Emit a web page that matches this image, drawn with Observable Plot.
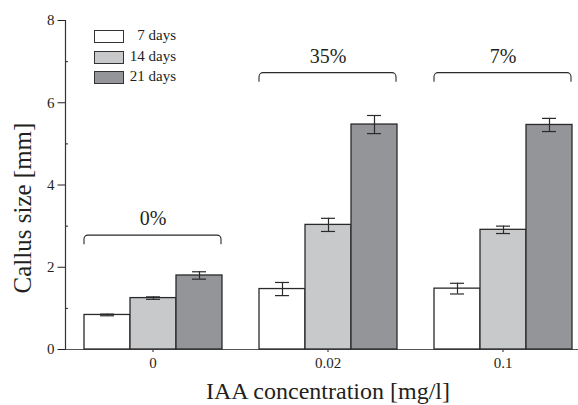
<!DOCTYPE html>
<html><head><meta charset="utf-8">
<script src="https://cdn.jsdelivr.net/npm/d3@7"></script>
<script src="https://cdn.jsdelivr.net/npm/@observablehq/plot@0.6"></script>
<style>
html,body{margin:0;padding:0;background:#fff;}
#wrap{position:relative;width:578px;height:405px;overflow:hidden;font-family:"Liberation Serif","Times New Roman",serif;}
#chart{position:absolute;left:0;top:0;width:591px;}
#chart svg{max-width:none !important;}
.leg{position:absolute;left:94px;font-size:15px;color:#231f20;}
.leg .box{position:absolute;left:0;width:28px;height:11px;border:1.2px solid #333;}
.leg .lab{position:absolute;left:34px;width:48px;text-align:right;top:-3px;white-space:nowrap;}
.ytitle{position:absolute;left:23px;top:208px;transform:translate(-50%,-50%) rotate(-90deg);font-size:25px;white-space:nowrap;color:#231f20;}
.xtitle{position:absolute;left:328px;top:391px;transform:translate(-50%,-50%);font-size:24px;white-space:nowrap;color:#231f20;}
</style></head>
<body>
<div id="wrap"><div id="chart"></div></div>
<script>
const concentrations = ["0", "0.02", "0.1"];
const days = ["7 days", "14 days", "21 days"];
const mean7 = [0.84, 1.47, 1.48];
const mean14 = [1.25, 3.03, 2.91];
const mean21 = [1.80, 5.47, 5.46];
const err7 = [0.02, 0.16, 0.13];
const err14 = [0.03, 0.16, 0.09];
const err21 = [0.09, 0.22, 0.16];
const percents = ["0%", "35%", "7%"];
const bracketY = [2.77, 6.72, 6.72];
const labelY = [3.19, 7.12, 7.12];
const dayColors = ["#ffffff", "#c8c9cb", "#939598"];
const yTicks = [0, 2, 4, 6, 8];
const yMinor = [1, 3, 5, 7];

const means = [mean7, mean14, mean21];
const errs = [err7, err14, err21];
const rows = [];
concentrations.forEach((c, i) => days.forEach((d, j) => {
  rows.push({conc: c, day: d, mean: means[j][i], lo: means[j][i] - errs[j][i], hi: means[j][i] + errs[j][i]});
}));
const ann = concentrations.map((c, i) => ({conc: c, pct: percents[i], b: bracketY[i], t: labelY[i]}));
const hook = 0.22;
const ink = "#2a2a2a";
const serif = "'Liberation Serif', 'Times New Roman', serif";

const plot = Plot.plot({
  width: 591, height: 405,
  marginLeft: 64, marginRight: 0, marginTop: 20, marginBottom: 56,
  style: {fontFamily: serif, fontSize: "15px", color: "#231f20", background: "white", maxWidth: "none"},
  fx: {domain: concentrations, padding: 0, axis: "bottom", label: null, tickSize: 3, tickPadding: 5},
  x: {domain: days, paddingInner: 0, paddingOuter: 0.38, axis: null},
  y: {domain: [0, 8], label: null},
  color: {domain: days, range: dayColors},
  marks: [
    Plot.ruleY([0], {stroke: "#555", strokeWidth: 1}),
    Plot.barY(rows, {fx: "conc", x: "day", y: "mean", fill: "day", stroke: ink, strokeWidth: 1.3, inset: 0}),
    Plot.ruleX(rows, {fx: "conc", x: "day", y1: "lo", y2: "hi", stroke: ink, strokeWidth: 1.2}),
    Plot.tickY(rows, {fx: "conc", x: "day", y: "lo", stroke: ink, strokeWidth: 1.2, insetLeft: 16, insetRight: 16}),
    Plot.tickY(rows, {fx: "conc", x: "day", y: "hi", stroke: ink, strokeWidth: 1.2, insetLeft: 16, insetRight: 16}),
    Plot.barY(ann, {fx: "conc", y1: d => d.b - hook - 0.1, y2: "b", fill: "none", stroke: ink, strokeWidth: 1.1, rx: 4, insetLeft: 19, insetRight: 19}),
    Plot.ruleY(ann, {fx: "conc", y: d => d.b - hook - 0.1, stroke: "white", strokeWidth: 9, insetLeft: 17, insetRight: 17}),
    Plot.text(ann, {fx: "conc", y: "t", text: "pct", fontSize: 20, fontFamily: serif, fill: "#231f20"}),
    Plot.axisY({ticks: yTicks, tickSize: 7.5, tickPadding: 3.5, label: null, fontFamily: serif, fontSize: 15}),
    Plot.axisY({ticks: yMinor, tickSize: -3, tickFormat: () => "", label: null}),
    Plot.frame({anchor: "left", facetAnchor: "left", stroke: "#333", strokeWidth: 1.2})
  ]
});
document.getElementById("chart").appendChild(plot);

const wrap = document.getElementById("wrap");
days.forEach((d, j) => {
  const el = document.createElement("div");
  el.className = "leg";
  el.style.top = (30 + j * 20.5) + "px";
  el.innerHTML = `<div class="box" style="background:${dayColors[j]}"></div><div class="lab">${d}</div>`;
  wrap.appendChild(el);
});
const yt = document.createElement("div"); yt.className = "ytitle"; yt.textContent = "Callus size [mm]"; wrap.appendChild(yt);
const xt = document.createElement("div"); xt.className = "xtitle"; xt.textContent = "IAA concentration [mg/l]"; wrap.appendChild(xt);
</script>
</body></html>
